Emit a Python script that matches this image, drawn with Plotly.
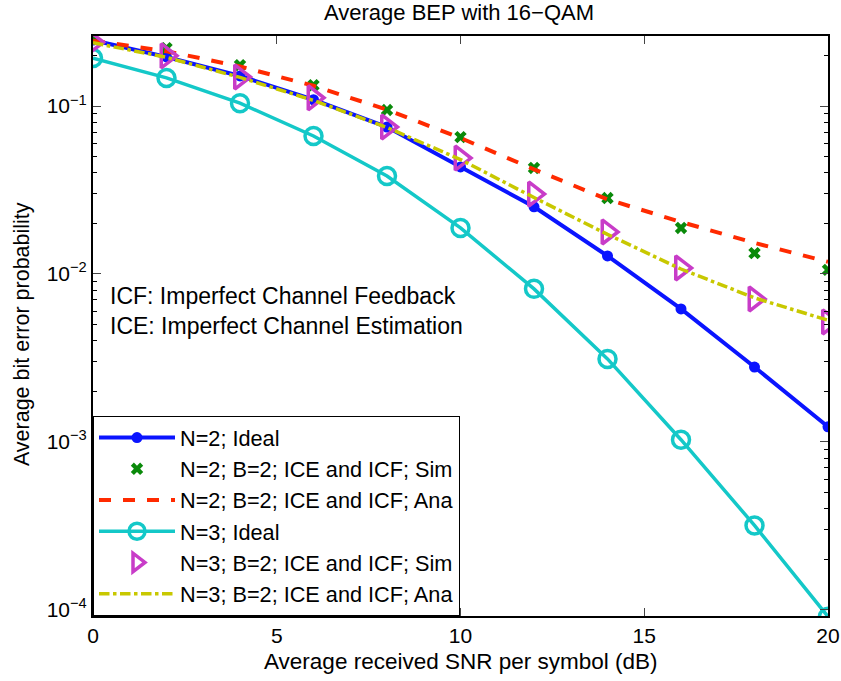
import plotly.graph_objects as go

snr = [0, 2, 4, 6, 8, 10, 12, 14, 16, 18, 20]
n2_ideal = [0.247, 0.196, 0.151, 0.109, 0.075, 0.0434, 0.0251, 0.0128, 0.00619, 0.00279, 0.00123]
n2_sim = [0.254, 0.221, 0.175, 0.133, 0.0947, 0.0653, 0.0428, 0.0283, 0.0188, 0.0133, 0.01057]
n2_ana = [0.245, 0.212, 0.172, 0.132, 0.095, 0.0645, 0.042, 0.0278, 0.0204, 0.0153, 0.0118]
n3_ideal = [0.193, 0.147, 0.104, 0.0663, 0.0383, 0.0188, 0.00815, 0.00312, 0.00103, 0.000318, 0.000091]
n3_sim = [0.240, 0.199, 0.149, 0.112, 0.075, 0.049, 0.0299, 0.0178, 0.01086, 0.0071, 0.00518]
n3_ana = [0.238, 0.195, 0.148, 0.108, 0.0745, 0.048, 0.0285, 0.0172, 0.0107, 0.0072, 0.0053]

names = ["N=2; Ideal", "N=2; B=2; ICE and ICF; Sim", "N=2; B=2; ICE and ICF; Ana",
         "N=3; Ideal", "N=3; B=2; ICE and ICF; Sim", "N=3; B=2; ICE and ICF; Ana"]
ytick_vals = [1e-4, 1e-3, 1e-2, 1e-1]
ytick_text = ["10<sup>−4</sup>", "10<sup>−3</sup>", "10<sup>−2</sup>", "10<sup>−1</sup>"]
xtick_vals = [0, 5, 10, 15, 20]

FONT = "Liberation Sans, Arial, sans-serif"

fig = go.Figure()
fig.add_trace(go.Scatter(x=snr, y=n2_ideal, name=names[0], mode="lines+markers",
                         line=dict(color="#0a14ff", width=4),
                         marker=dict(symbol="circle", size=11, color="#0a14ff"),
                         legendgroup="a"))
fig.add_trace(go.Scatter(x=snr, y=n2_sim, name=names[1], mode="markers",
                         marker=dict(symbol="x", size=11, color="#0a8a0a", line=dict(width=0)),
                         legendgroup="b"))
fig.add_trace(go.Scatter(x=snr, y=n2_ana, name=names[2], mode="lines",
                         line=dict(color="#ff2a00", width=4, dash="dash"),
                         legendgroup="c"))
fig.add_trace(go.Scatter(x=snr, y=n3_ideal, name=names[3], mode="lines+markers",
                         line=dict(color="#14c8c8", width=3.5),
                         marker=dict(symbol="circle-open", size=17, color="#14c8c8", line=dict(width=3.5)),
                         legendgroup="d"))
fig.add_trace(go.Scatter(x=snr, y=n3_sim, name=names[4], mode="markers",
                         marker=dict(symbol="triangle-right-open", size=21, color="#c83cc8", line=dict(width=3.5)),
                         legendgroup="e"))
fig.add_trace(go.Scatter(x=snr, y=n3_ana, name=names[5], mode="lines",
                         line=dict(color="#c8c800", width=3.5, dash="dashdot"),
                         legendgroup="f"))

fig.update_layout(
    width=841, height=681,
    margin=dict(l=93, r=13, t=36, b=65, autoexpand=False),
    paper_bgcolor="white", plot_bgcolor="white",
    font=dict(family=FONT, size=21, color="black"),
    title=dict(text="Average BEP with 16−QAM", x=0.5458, xanchor="center", y=0.9824, yanchor="middle",
               font=dict(size=22)),
    showlegend=True,
    legend=dict(x=0, y=0, xanchor="left", yanchor="bottom", bgcolor="white",
                bordercolor="black", borderwidth=1, font=dict(size=21.7),
                traceorder="grouped", tracegroupgap=0, itemwidth=76),
    xaxis=dict(range=[0, 20], tickvals=xtick_vals, ticks="inside", ticklen=8, tickwidth=1,
               showline=True, linecolor="black", linewidth=2, mirror="allticks",
               showgrid=False, zeroline=False, tickfont=dict(size=21)),
    yaxis=dict(type="log", range=[-4.037, -0.583], tickvals=ytick_vals, ticktext=ytick_text,
               ticks="inside", ticklen=8, tickwidth=1,
               showline=True, linecolor="black", linewidth=2, mirror="allticks",
               showgrid=False, zeroline=False, tickfont=dict(size=21),
               minor=dict(tickvals=[m * 10 ** e for e in range(-5, 0) for m in range(2, 10)],
                          ticks="inside", ticklen=4, tickcolor="black", showgrid=False)),
    annotations=[
        dict(text="ICF: Imperfect Channel Feedback", xref="paper", yref="paper", x=0.0204, y=0.5517,
             xanchor="left", yanchor="middle", showarrow=False, font=dict(size=23)),
        dict(text="ICE: Imperfect Channel Estimation", xref="paper", yref="paper", x=0.0204, y=0.5,
             xanchor="left", yanchor="middle", showarrow=False, font=dict(size=23)),
        dict(text="Average received SNR per symbol (dB)", xref="paper", yref="paper", x=0.5, y=-0.0793,
             xanchor="center", yanchor="middle", showarrow=False, font=dict(size=22.5)),
        dict(text="Average bit error probability", xref="paper", yref="paper", x=-0.0966, y=0.486,
             xanchor="center", yanchor="middle", textangle=-90, showarrow=False, font=dict(size=21.5)),
    ],
)

fig.write_html("out.html", config={"displayModeBar": False},
               post_script="document.body.style.margin='0';document.body.style.overflow='hidden';")
